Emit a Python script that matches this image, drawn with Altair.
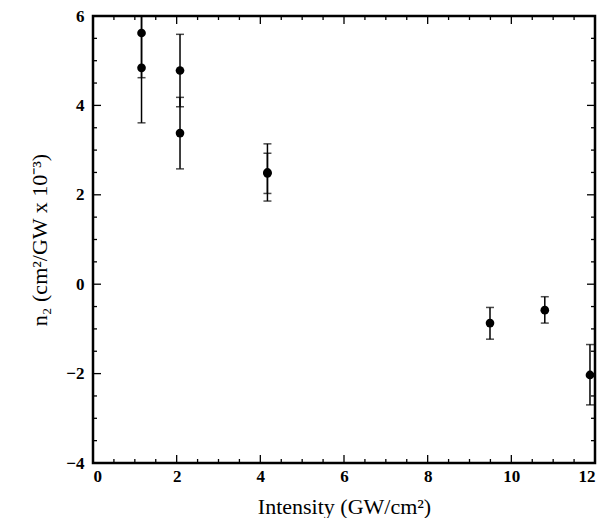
import altair as alt
import pandas as pd

# ---- data ----
intensity = [1.16, 1.16, 2.08, 2.08, 4.17, 4.17, 9.49, 10.80, 11.88]
n2 = [5.62, 4.84, 4.78, 3.38, 2.48, 2.50, -0.87, -0.58, -2.03]
n2_low = [4.62, 3.61, 3.97, 2.58, 1.86, 2.03, -1.23, -0.87, -2.70]
n2_high = [6.00, 6.00, 5.59, 4.18, 3.14, 2.93, -0.52, -0.28, -1.35]

x_major = [0, 2, 4, 6, 8, 10, 12]
y_major = [-4, -2, 0, 2, 4, 6]
x_minor = [0.5, 1, 1.5, 2.5, 3, 3.5, 4.5, 5, 5.5, 6.5, 7, 7.5, 8.5, 9, 9.5, 10.5, 11, 11.5]
y_minor = [-3.5, -3, -2.5, -1.5, -1, -0.5, 0.5, 1, 1.5, 2.5, 3, 3.5, 4.5, 5, 5.5]

W, H = 502, 447
FONT = "Liberation Serif"

df = pd.DataFrame({"x": intensity, "y": n2, "lo": n2_low, "hi": n2_high})

xs = alt.Scale(domain=[0, 12], nice=False)
ys = alt.Scale(domain=[-4, 6], nice=False)

xaxis = alt.Axis(values=x_major, title="Intensity (GW/cm²)", ticks=False, domain=False,
                 grid=False, labelFont=FONT, labelFontSize=17, labelFontWeight="bold",
                 labelColor="black", labelPadding=5, titleFont=FONT, titleFontSize=22,
                 titleFontWeight="normal", titleColor="black", titlePadding=12, format="d")
yaxis = alt.Axis(values=y_major, title="n₂ (cm²/GW x 10⁻³)", ticks=False, domain=False,
                 grid=False, labelFont=FONT, labelFontSize=17, labelFontWeight="bold",
                 labelColor="black", labelPadding=9, titleFont=FONT, titleFontSize=22,
                 titleFontWeight="normal", titleColor="black", titlePadding=14, format="d")

base = alt.Chart(df)
bars = base.mark_rule(color="black", strokeWidth=1.5, clip=True).encode(
    x=alt.X("x:Q", scale=xs, axis=xaxis),
    y=alt.Y("lo:Q", scale=ys, axis=yaxis),
    y2="hi:Q",
)
cap_lo = base.mark_tick(color="black", orient="horizontal", size=8, thickness=1.5, clip=True).encode(
    x=alt.X("x:Q", scale=xs, axis=xaxis), y=alt.Y("lo:Q", scale=ys, axis=yaxis))
cap_hi = base.mark_tick(color="black", orient="horizontal", size=8, thickness=1.5, clip=True).encode(
    x=alt.X("x:Q", scale=xs, axis=xaxis), y=alt.Y("hi:Q", scale=ys, axis=yaxis))
pts = base.mark_circle(color="black", size=75, opacity=1).encode(
    x=alt.X("x:Q", scale=xs, axis=xaxis), y=alt.Y("y:Q", scale=ys, axis=yaxis))


def xticks(vals, ln):
    d = pd.DataFrame({"x": vals})
    enc = dict(x=alt.X("x:Q", scale=xs, axis=xaxis))
    bottom = alt.Chart(d).mark_rule(color="black", strokeWidth=1.3).encode(
        **enc, y=alt.value(H), y2=alt.value(H - ln))
    top = alt.Chart(d).mark_rule(color="black", strokeWidth=1.3).encode(
        **enc, y=alt.value(0), y2=alt.value(ln))
    return [bottom, top]


def yticks(vals, ln):
    d = pd.DataFrame({"y": vals})
    enc = dict(y=alt.Y("y:Q", scale=ys, axis=yaxis))
    left = alt.Chart(d).mark_rule(color="black", strokeWidth=1.3).encode(
        **enc, x=alt.value(0), x2=alt.value(ln))
    right = alt.Chart(d).mark_rule(color="black", strokeWidth=1.3).encode(
        **enc, x=alt.value(W), x2=alt.value(W - ln))
    return [left, right]


# plot frame: an unfilled rectangle over the whole plotting area
frame_df = pd.DataFrame({"x0": [0], "x1": [12], "y0": [-4], "y1": [6]})
frame = alt.Chart(frame_df).mark_rect(fill="transparent", stroke="black", strokeWidth=2.5).encode(
    x=alt.X("x0:Q", scale=xs, axis=xaxis), x2="x1:Q",
    y=alt.Y("y0:Q", scale=ys, axis=yaxis), y2="y1:Q",
)

layers = [frame, bars, cap_lo, cap_hi, pts]
layers += xticks(x_major, 8) + xticks(x_minor, 4) + yticks(y_major, 8) + yticks(y_minor, 4)

chart = alt.layer(*layers).properties(
    width=W, height=H,
    autosize=alt.AutoSizeParams(type="none"),
    padding={"left": 85, "top": 8, "right": 4, "bottom": 55},
).configure_view(stroke="black", strokeWidth=2.5).configure(background="white")

chart.save("out.html", embed_options={"renderer": "svg", "actions": False})
